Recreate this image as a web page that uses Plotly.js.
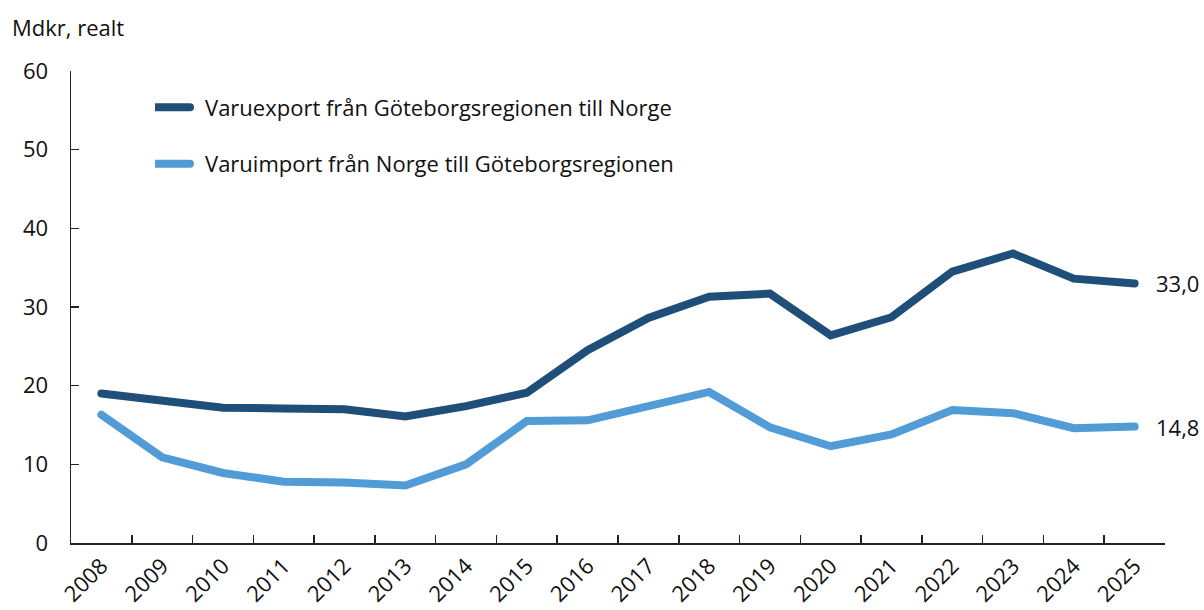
<!DOCTYPE html>
<html>
<head>
<meta charset="utf-8">
<script src="https://cdn.plot.ly/plotly-3.0.1.min.js"></script>
<style>
html,body{margin:0;padding:0;background:#fff}
#chart{width:1204px;height:610px}
#chart .scatterlayer .js-line, #chart .legendlines path{stroke-linecap:round}
</style>
</head>
<body>
<div id="chart"></div>
<script>
const years = ["2008","2009","2010","2011","2012","2013","2014","2015","2016","2017","2018","2019","2020","2021","2022","2023","2024","2025"];
const exportValues = [19.0,18.0,17.2,17.1,17.0,16.1,17.4,19.1,24.5,28.6,31.3,31.7,26.4,28.7,34.5,36.8,33.6,33.0];
const importValues = [16.3,10.9,8.9,7.8,7.7,7.3,10.0,15.5,15.6,17.5,19.2,14.7,12.3,13.8,16.9,16.5,14.6,14.8];
const seriesNames = ["Varuexport från Göteborgsregionen till Norge","Varuimport från Norge till Göteborgsregionen"];
const yTicks = [0,10,20,30,40,50,60];
const yUnit = "Mdkr, realt";

const darkBlue = "#1f4e79";
const lightBlue = "#519bd6";
const font = "'Open Sans', Roboto, sans-serif";
const fs = 22;
const txt = "#111";
const fmt = v => v.toFixed(1).replace(".", ",");
const last = years.length - 1;

const traces = [
  {x: years, y: exportValues, name: seriesNames[0], type: "scatter", mode: "lines",
   line: {color: darkBlue, width: 8}, legend: "legend"},
  {x: years, y: importValues, name: seriesNames[1], type: "scatter", mode: "lines",
   line: {color: lightBlue, width: 8}, legend: "legend2"}
];

const layout = {
  width: 1204, height: 610,
  margin: {l: 71, r: 39, t: 71, b: 67},
  paper_bgcolor: "#fff", plot_bgcolor: "#fff",
  font: {family: font, size: fs, color: txt},
  showlegend: true,
  legend: {x: 0.0768, y: 0.923, xanchor: "left", yanchor: "middle", bgcolor: "rgba(0,0,0,0)",
           itemwidth: 40, font: {family: font, size: fs, color: txt}},
  legend2: {x: 0.0768, y: 0.803, xanchor: "left", yanchor: "middle", bgcolor: "rgba(0,0,0,0)",
           itemwidth: 40, font: {family: font, size: fs, color: txt}},
  xaxis: {
    type: "category", range: [-0.5, years.length - 0.5],
    showgrid: false, zeroline: false,
    showline: true, linecolor: "#222", linewidth: 1.5,
    ticks: "inside", ticklen: 8, tickwidth: 1.5, tickcolor: "#222",
    tickson: "boundaries", tickangle: -45,
    tickfont: {family: font, size: fs, color: txt}
  },
  yaxis: {
    range: [0, 60], tickvals: yTicks, ticktext: yTicks.map(String),
    showgrid: false, zeroline: false,
    showline: true, linecolor: "#222", linewidth: 1.5,
    ticks: "inside", ticklen: 8, tickwidth: 1.5, tickcolor: "#222",
    ticklabelstandoff: 17,
    tickfont: {family: font, size: fs, color: txt}
  },
  annotations: [
    {xref: "paper", yref: "paper", x: -0.056, y: 1.058, xanchor: "left", yanchor: "bottom",
     text: yUnit, showarrow: false, font: {family: font, size: fs, color: txt}},
    {xref: "x", yref: "y", x: last, y: exportValues[last], xanchor: "left", yanchor: "middle",
     xshift: 19, text: fmt(exportValues[last]), showarrow: false, font: {family: font, size: fs, color: txt}},
    {xref: "x", yref: "y", x: last, y: importValues[last], xanchor: "left", yanchor: "middle",
     xshift: 19, text: fmt(importValues[last]), showarrow: false, font: {family: font, size: fs, color: txt}}
  ]
};

Plotly.newPlot("chart", traces, layout, {displayModeBar: false, staticPlot: true}).then(gd => {
  // lengthen the legend key lines to match the reference
  gd.querySelectorAll(".legendlines path").forEach(p => p.setAttribute("d", "M-17,0h52"));
});
</script>
</body>
</html>
